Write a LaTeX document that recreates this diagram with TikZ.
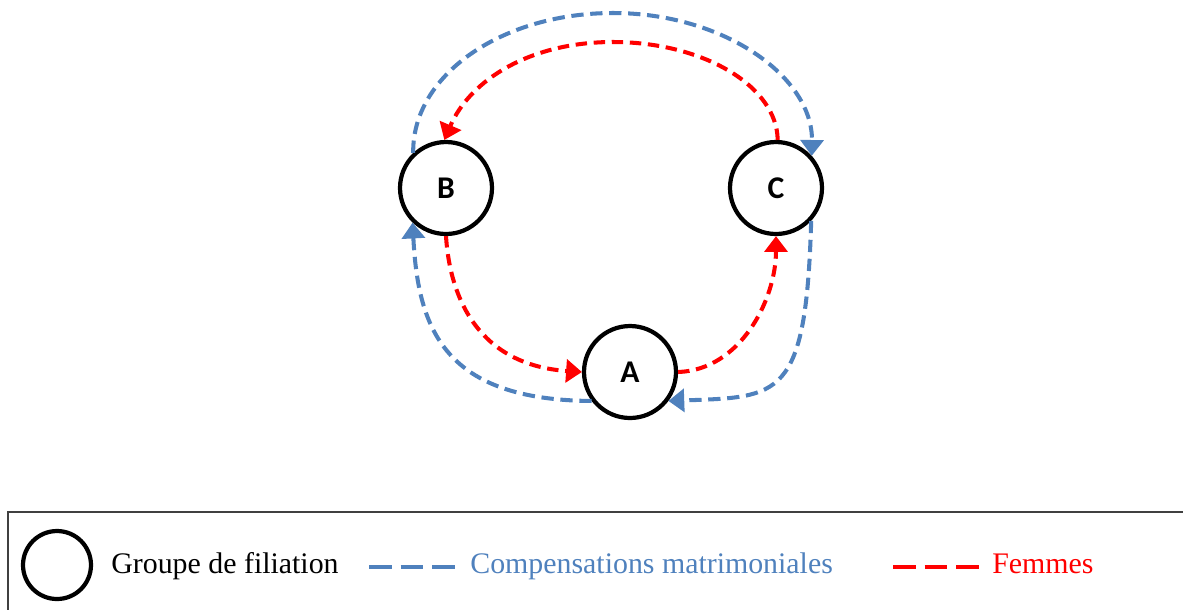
\documentclass[tikz,border=0pt]{standalone}
\usepackage{fontspec}
\setmainfont{Liberation Serif}
\newfontfamily\lettrefont{Carlito}
\usetikzlibrary{arrows.meta}
\definecolor{compblue}{RGB}{79,129,189}
\definecolor{femred}{RGB}{255,0,0}

\begin{document}
\begin{tikzpicture}[x=0.02cm,y=-0.02cm,
    groupe/.style={draw,circle,line width=2.4pt,minimum size=1.84cm,inner sep=0pt,font=\lettrefont\bfseries\fontsize{18pt}{20pt}\selectfont},
    comp/.style={color=compblue,line width=2.3pt,dash pattern=on 7pt off 3.8pt,-{Triangle[length=9pt,width=13pt]}},
    fem/.style={color=femred,line width=2.3pt,dash pattern=on 6.5pt off 3.8pt,-{Triangle[length=9pt,width=13pt]}},
    legtext/.style={anchor=base west,inner sep=0pt,font=\fontsize{17pt}{20pt}\selectfont}]
    \useasboundingbox (0,0) rectangle (1183,610);
    \node[groupe] (b) at (446,188) {B};
    \node[groupe] (c) at (776,188) {C};
    \node[groupe] (a) at (630,372) {A};
    % compensations matrimoniales
    \draw[comp] (a.217) .. controls (445,400) and (418,330) .. (b.226);
    \draw[comp] (c.-43) .. controls (806,400) and (780,397) .. (a.-37);
    \draw[comp] (b.133) .. controls (412,75) and (502,13) .. (613,13) .. controls (724,13) and (813,77) .. (c.42);
    % femmes
    \draw[fem] (c.88) .. controls (777,86) and (703,42) .. (613,42) .. controls (530,42) and (470,80) .. (b.92);
    \draw[fem] (b.south) .. controls (450,300) and (480,365) .. (a.west);
    \draw[fem] (a.east) .. controls (740,370) and (776,300) .. (c.south);
    % legende
    \draw[line width=0.6pt,black!75] (1183,512) -- (8,512) -- (8,610);
    \node[groupe,minimum size=1.36cm] (legcirc) at (57,565) {};
    \node[legtext] (leggrp) at (111,573) {Groupe de filiation};
    \draw[compblue,line width=2.8pt,dash pattern=on 13pt off 5pt] (369,567) -- (456,567);
    \node[legtext,text=compblue] (legcomp) at (470,573) {Compensations matrimoniales};
    \draw[femred,line width=2.8pt,dash pattern=on 13pt off 5pt] (893,567) -- (980,567);
    \node[legtext,text=femred] (legfem) at (992,573) {Femmes};
\end{tikzpicture}
\end{document}
